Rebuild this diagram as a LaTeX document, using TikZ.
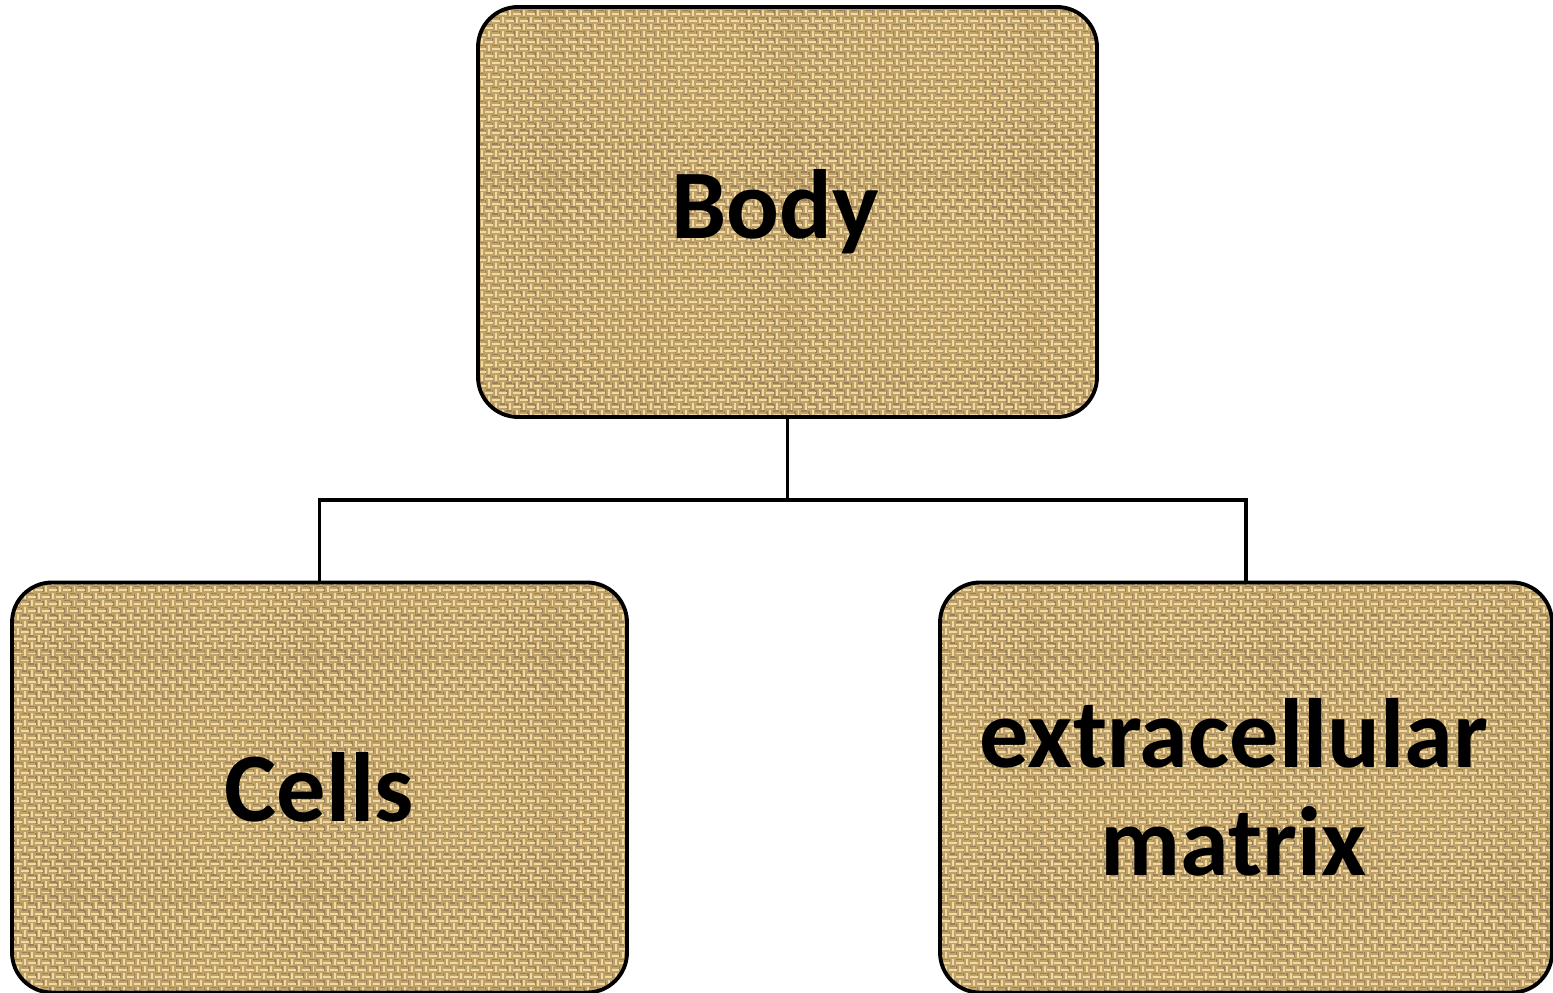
\documentclass[tikz,border=0pt]{standalone}
\usepackage{fontspec}
\setmainfont{Carlito}
\usetikzlibrary{patterns}

\definecolor{burlap}{RGB}{192,161,104}
\definecolor{threadlight}{RGB}{240,218,162}
\definecolor{threaddark}{RGB}{128,98,52}

% twill-like weave for the sackcloth look
\pgfdeclarepatternformonly{weavelight}{\pgfqpoint{-1pt}{-1pt}}{\pgfqpoint{5pt}{5pt}}{\pgfqpoint{4pt}{4pt}}{
  \pgfsetlinewidth{0.55pt}
  \pgfpathmoveto{\pgfqpoint{0pt}{0.6pt}}\pgfpathlineto{\pgfqpoint{2.2pt}{0.6pt}}
  \pgfpathmoveto{\pgfqpoint{2pt}{2.6pt}}\pgfpathlineto{\pgfqpoint{4.2pt}{2.6pt}}
  \pgfpathmoveto{\pgfqpoint{3.2pt}{0pt}}\pgfpathlineto{\pgfqpoint{3.2pt}{1.8pt}}
  \pgfpathmoveto{\pgfqpoint{1.2pt}{2pt}}\pgfpathlineto{\pgfqpoint{1.2pt}{3.8pt}}
  \pgfusepath{stroke}}
\pgfdeclarepatternformonly{weavedark}{\pgfqpoint{-1pt}{-1pt}}{\pgfqpoint{5pt}{5pt}}{\pgfqpoint{4pt}{4pt}}{
  \pgfsetlinewidth{0.4pt}
  \pgfpathmoveto{\pgfqpoint{0pt}{1.6pt}}\pgfpathlineto{\pgfqpoint{1.6pt}{1.6pt}}
  \pgfpathmoveto{\pgfqpoint{2.2pt}{3.6pt}}\pgfpathlineto{\pgfqpoint{3.8pt}{3.6pt}}
  \pgfpathmoveto{\pgfqpoint{2.2pt}{0.2pt}}\pgfpathlineto{\pgfqpoint{2.2pt}{1.6pt}}
  \pgfpathmoveto{\pgfqpoint{0.2pt}{2.2pt}}\pgfpathlineto{\pgfqpoint{0.2pt}{3.6pt}}
  \pgfusepath{stroke}}

\tikzset{
  sack/.style={draw=black, line width=1.1pt, rounded corners=0.4cm,
    preaction={fill=burlap},
    preaction={pattern=weavedark, pattern color=threaddark!80},
    pattern=weavelight, pattern color=threadlight,
    inner sep=0pt, align=center,
    font=\fontsize{28}{30.7}\selectfont\bfseries},
  link/.style={line width=1pt}
}

\begin{document}
\begin{tikzpicture}

\useasboundingbox (0,0) rectangle (15.53,9.93);

\node[sack, minimum width=6.19cm, minimum height=4.10cm] (body) at (7.875,7.81) {\hspace*{-0.24cm}Body};
\node[sack, minimum width=6.15cm, minimum height=4.10cm] (cells) at (3.195,2.055) {Cells};
\node[sack, minimum width=6.12cm, minimum height=4.10cm] (ecm) at (12.46,2.055) {\hspace*{-0.24cm}extracellular\\\hspace*{-0.24cm}matrix};

\coordinate (split) at (7.875,4.93);
\draw[link](body.south)--(split);
\draw[link](split)-|(cells.north);
\draw[link](split)-|(ecm.north);

\end{tikzpicture}
\end{document}
